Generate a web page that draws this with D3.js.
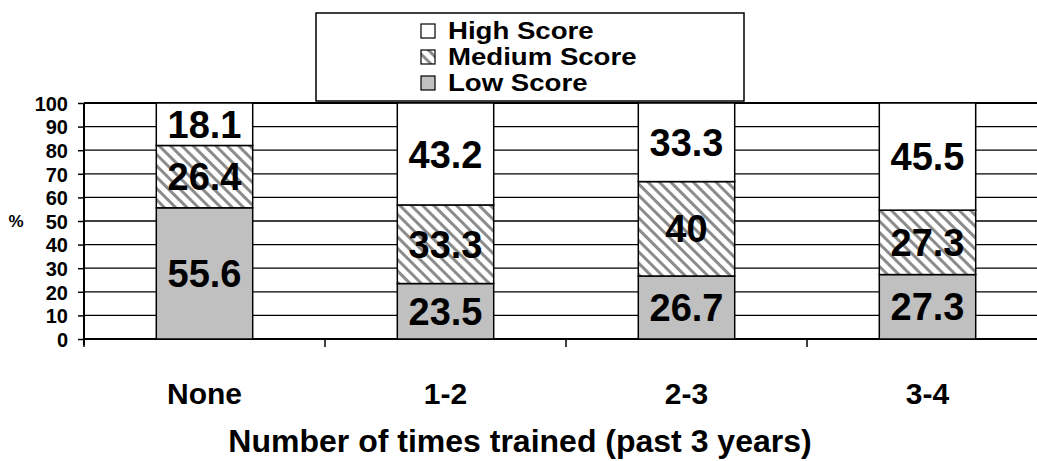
<!DOCTYPE html>
<html><head><meta charset="utf-8">
<script src="https://cdn.jsdelivr.net/npm/d3@7"></script>
<style>
html,body{margin:0;padding:0;background:#fff;}
svg{display:block;font-family:"Liberation Sans",Arial,sans-serif;font-weight:bold;}
</style></head>
<body><svg id="c" width="1037" height="461"></svg>
<script>
const categories = ["None", "1-2", "2-3", "3-4"];
const lowScore = [55.6, 23.5, 26.7, 27.3];
const mediumScore = [26.4, 33.3, 40, 27.3];
const highScore = [18.1, 43.2, 33.3, 45.5];
const yTicks = [0, 10, 20, 30, 40, 50, 60, 70, 80, 90, 100];
const seriesNames = ["High Score", "Medium Score", "Low Score"];
const xTitle = "Number of times trained (past 3 years)";
const yTitle = "%";

const svg = d3.select("#c");
const defs = svg.append("defs");
const pat = defs.append("pattern").attr("id","hatch").attr("patternUnits","userSpaceOnUse")
  .attr("width",8).attr("height",8).attr("patternTransform","rotate(-45)");
pat.append("rect").attr("width",8).attr("height",8).attr("fill","#fff");
pat.append("rect").attr("x",0).attr("width",3).attr("height",8).attr("fill","#8c8c8c");

const x = d3.scaleBand().domain(categories).range([84, 1048]).paddingInner(0.6).paddingOuter(0.3);
const y = d3.scaleLinear().domain([0,100]).range([339,103]);

// gridlines
svg.append("g").selectAll("line").data(yTicks.filter(d=>d>0)).join("line")
  .attr("x1",84).attr("x2",1037).attr("y1",d=>y(d)).attr("y2",d=>y(d))
  .attr("stroke","#000").attr("stroke-width",d=>d===100?2:1.3);

// y axis
const yAxis = svg.append("g").attr("transform","translate(84,0)")
  .call(d3.axisLeft(y).tickValues(yTicks).tickSize(6).tickFormat(d3.format("d")));
yAxis.select(".domain").attr("stroke","#000").attr("stroke-width",2).attr("d","M0,103V345");
yAxis.selectAll(".tick line").attr("stroke","#000").attr("stroke-width",1.5);
yAxis.selectAll(".tick text").attr("x",-16).attr("dy","0.36em")
  .attr("font-size",20).attr("font-weight","bold").attr("fill","#000")
  .attr("font-family","Liberation Sans, Arial, sans-serif")
  .attr("text-anchor","end");

// x axis
const xAxis = svg.append("g").attr("transform","translate(0,339)")
  .call(d3.axisBottom(x).tickSize(0).tickFormat(""));
xAxis.select(".domain").attr("stroke","#000").attr("stroke-width",2).attr("d","M84,0H1037");
const step = x.step();
svg.append("g").selectAll("line").data(categories).join("line")
  .attr("x1",d=>x(d)-step*0.3).attr("x2",d=>x(d)-step*0.3)
  .attr("y1",339).attr("y2",347).attr("stroke","#000").attr("stroke-width",1.5);

// bars
const stackData = categories.map((c,i)=>({cat:c, low:lowScore[i], med:mediumScore[i], high:highScore[i]}));
const stack = d3.stack().keys(["low","med","high"])(stackData);
const fills = {low:"#c0c0c0", med:"url(#hatch)", high:"#ffffff"};
const bw = x.bandwidth();
stack.forEach(layer=>{
  const g = svg.append("g");
  g.selectAll("rect").data(layer).join("rect")
    .attr("x",d=>x(d.data.cat)).attr("width",bw)
    .attr("y",d=>y(Math.min(d[1],100))).attr("height",d=>y(d[0])-y(Math.min(d[1],100)))
    .attr("fill",fills[layer.key]).attr("stroke","#000").attr("stroke-width",1.5);
  g.selectAll("text").data(layer).join("text")
    .attr("x",d=>x(d.data.cat)+bw/2)
    .attr("y",d=>(y(d[0])+y(Math.min(d[1],100)))/2)
    .attr("dy","0.36em").attr("text-anchor","middle")
    .attr("font-size",38).attr("fill","#000")
    .text(d=>d.data[layer.key]);
});

// category labels
svg.append("g").selectAll("text").data(categories).join("text")
  .attr("x",d=>x(d)+bw/2).attr("y",404)
  .attr("text-anchor","middle").attr("font-size",30).text(d=>d);

// axis titles
svg.append("text").attr("x",520).attr("y",452)
  .attr("text-anchor","middle").attr("font-size",32).text(xTitle);
svg.append("text").attr("x",16).attr("y",221)
  .attr("text-anchor","middle").attr("dy","0.36em").attr("font-size",17).text(yTitle);

// legend
svg.append("rect").attr("x",316).attr("y",13).attr("width",428).attr("height",88)
  .attr("fill","#fff").attr("stroke","#000").attr("stroke-width",1.5);
const legFill = ["#ffffff","url(#hatch)","#c0c0c0"];
const lg = svg.append("g").selectAll("g").data(seriesNames).join("g")
  .attr("transform",(d,i)=>`translate(0,${39+i*26})`);
lg.append("rect").attr("x",421).attr("y",-15).attr("width",14).attr("height",14)
  .attr("fill",(d,i)=>legFill[i]).attr("stroke","#000").attr("stroke-width",1.2);
lg.append("text").attr("transform","translate(448,0) scale(1.2,1)")
  .attr("font-size",23).text(d=>d);
</script></body></html>
